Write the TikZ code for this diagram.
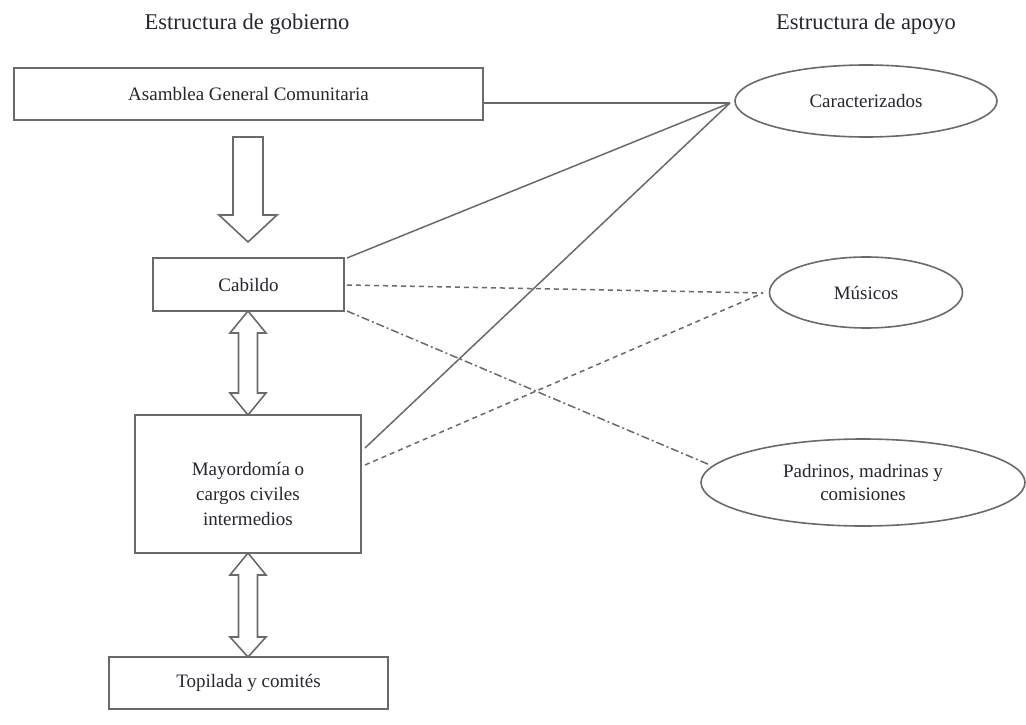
\documentclass[tikz,border=0pt]{standalone}
\usepackage{fontspec}
\setmainfont{Liberation Serif}
\usetikzlibrary{shapes.geometric,calc}
\definecolor{ln}{HTML}{6A6A6A}
\definecolor{tx}{HTML}{262630}
\tikzset{
  box/.style={draw=ln, line width=1.8pt, fill=white, inner sep=0pt, text=tx, font=\fontsize{19}{25}\selectfont, align=center},
  boxtext/.style={inner sep=0pt, text=tx, font=\fontsize{19}{25}\selectfont, align=center},
  oval/.style={ellipse, draw=ln, line width=1.6pt, fill=white, inner sep=0pt, text=tx, font=\fontsize{19}{23}\selectfont, align=center},
  ttl/.style={text=tx, font=\fontsize{22.5}{27}\selectfont},
  solidln/.style={draw=ln, line width=1.5pt},
  dashln/.style={draw=ln, line width=1.5pt, dash pattern=on 5pt off 4pt},
  dashdotln/.style={draw=ln, line width=1.5pt, dash pattern=on 8pt off 3pt on 2pt off 3pt},
  blkarrow/.style={draw=ln, line width=1.6pt, fill=white, line join=miter}
}
\begin{document}
\begin{tikzpicture}[x=1pt,y=-1pt]
\useasboundingbox (0,0) rectangle (1026,725);
\fill[white] (0,0) rectangle (1026,725);

% titles
\node[ttl] (t1) at (247,24) {Estructura de gobierno};
\node[ttl] (t2) at (866,24) {Estructura de apoyo};

% government boxes
\node[box, minimum width=469pt, minimum height=52pt] (asm) at (248.5,94) {Asamblea General Comunitaria};
\node[box, minimum width=191pt, minimum height=53pt] (cab) at (248.5,284.5) {Cabildo};
\node[box, minimum width=226pt, minimum height=138pt] (may) at (248,484) {};
\node[boxtext] (mayt) at (248,494) {Mayordomía o\\cargos civiles\\intermedios};
\node[box, minimum width=279pt, minimum height=52pt] (top) at (248.5,683) {Topilada y comités};

% support ellipses
\node[oval, minimum width=262pt, minimum height=72pt] (car) at (866,101) {Caracterizados};
\node[oval, minimum width=193pt, minimum height=71pt] (mus) at (866,292.5) {Músicos};
\node[oval, minimum width=324pt, minimum height=87pt] (pad) at (863,482.5) {Padrinos, madrinas y\\comisiones};

% block arrows
\draw[blkarrow] (233,137) -- (263,137) -- (263,215) -- (277,215) -- (248,242) -- (219,215) -- (233,215) -- cycle;
\draw[blkarrow] (248,311) -- (266,333) -- (257.5,333) -- (257.5,393) -- (266,393) -- (248,415) -- (230,393) -- (238.5,393) -- (238.5,333) -- (230,333) -- cycle;
\draw[blkarrow] (248,553) -- (266,575) -- (257.5,575) -- (257.5,637) -- (266,637) -- (248,657) -- (230,637) -- (238.5,637) -- (238.5,575) -- (230,575) -- cycle;

% connector endpoints
\coordinate (cw) at (730,103);
\coordinate (mw) at (763,293);
\coordinate (pw) at (710,465);
\coordinate (asmE) at (483,103);
\coordinate (cabNE) at (347,258);
\coordinate (cabE) at (347,285);
\coordinate (cabSE) at (347,311);
\coordinate (mayS) at (365,448);
\coordinate (mayD) at (365,465);

% connectors
\draw[solidln] (asmE) -- (cw);
\draw[solidln] (cabNE) -- (cw);
\draw[solidln] (mayS) -- (cw);
\draw[dashln] (cabE) -- (mw);
\draw[dashln] (mayD) -- (mw);
\draw[dashdotln] (cabSE) -- (pw);
\end{tikzpicture}
\end{document}
